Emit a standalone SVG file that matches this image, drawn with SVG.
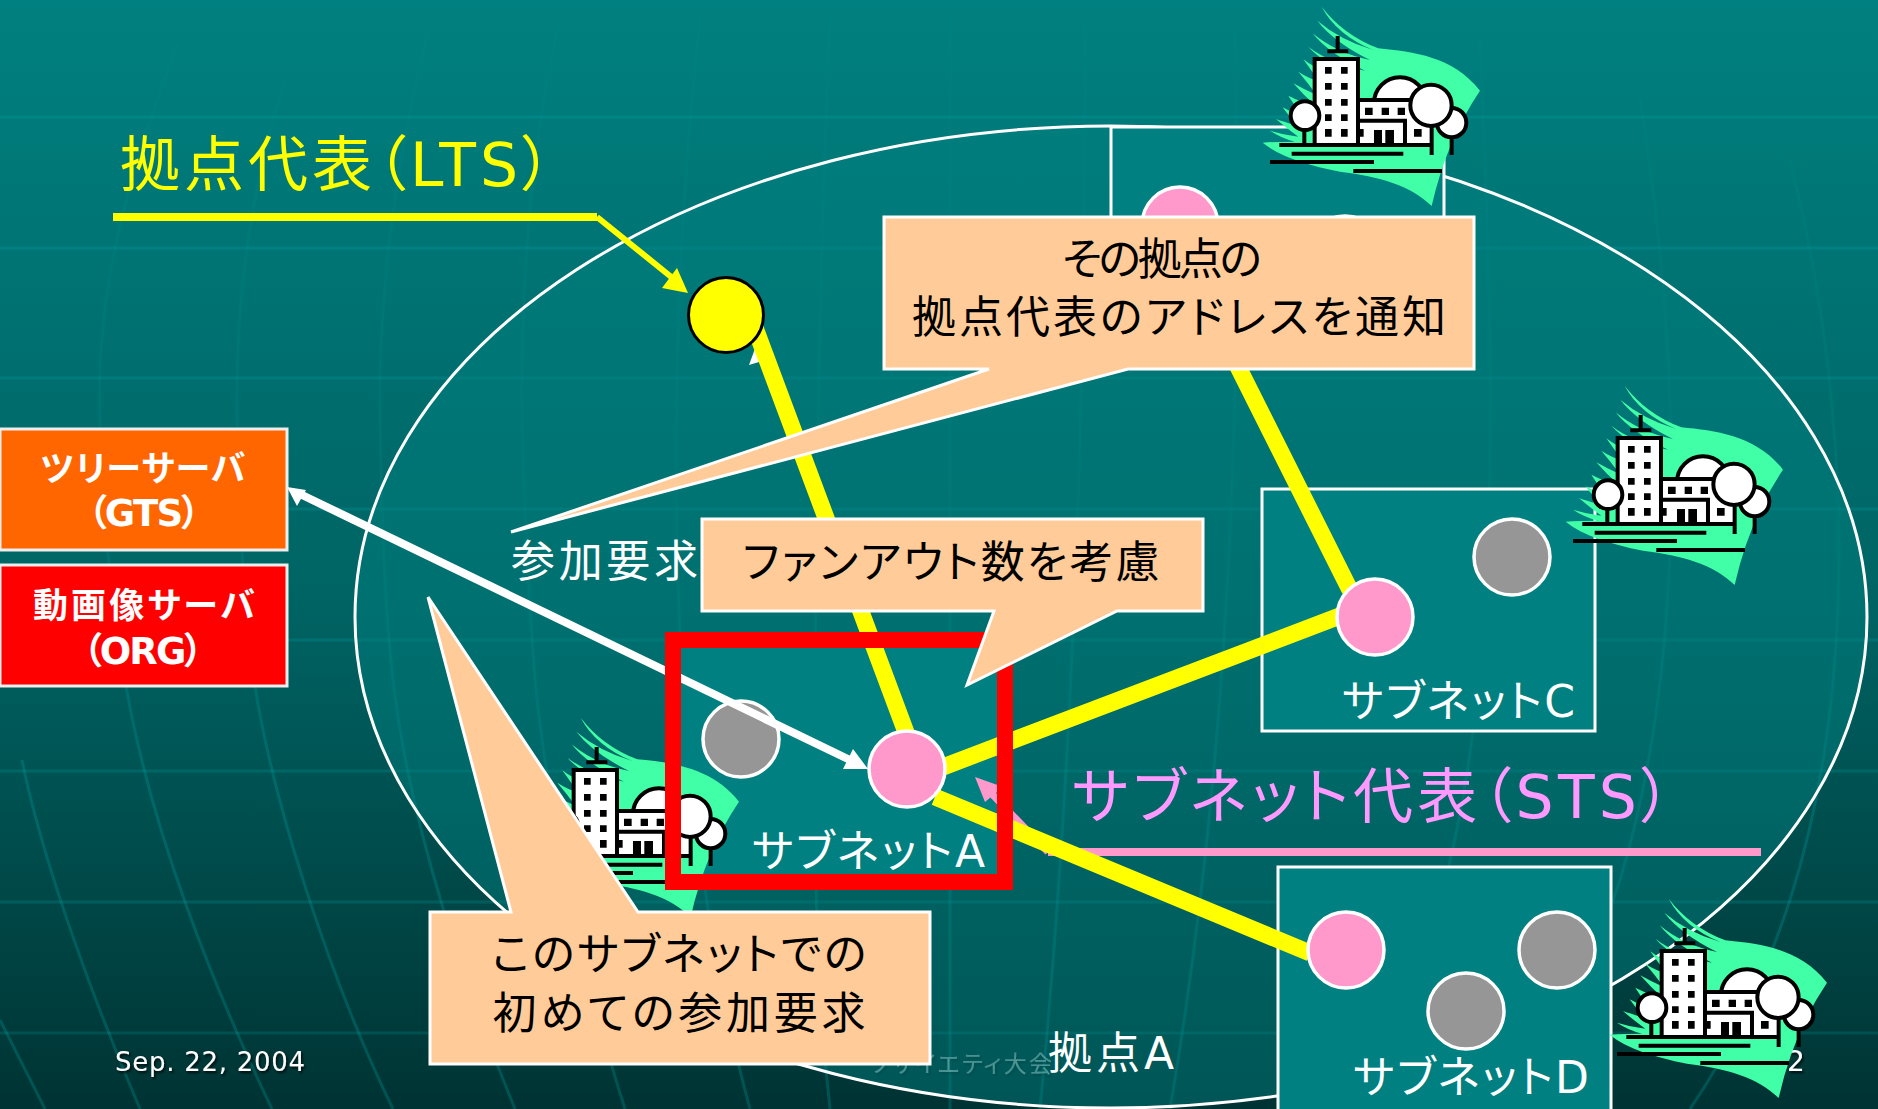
<svg xmlns="http://www.w3.org/2000/svg" width="1878" height="1109" viewBox="0 0 1878 1109">
<style>
text{font-family:"DejaVu Sans","Noto Sans CJK JP",sans-serif;font-feature-settings:"palt"}
.grid{fill:none;stroke:#00c0c0;stroke-opacity:.17;stroke-width:3}
.meridian{fill:none;stroke:url(#fade);stroke-width:3}
.subnet{fill:#008080;stroke:#fff;stroke-width:3}
.rep{fill:#ff99cc;stroke:#fff;stroke-width:3.5}
.host{fill:#969696;stroke:#fff;stroke-width:3.5}
.link{stroke:#ff0;stroke-width:17;fill:none}
.note{fill:#ffcc99;stroke:#fff;stroke-width:3}
.ntxt{fill:#000;font-size:44px;text-anchor:middle}
.wtxt{fill:#fff;font-size:44px}
.srv{fill:#fff;font-size:35px;font-weight:bold;text-anchor:middle}
.box{stroke:#eee;stroke-width:3}
.foot{fill:#fff;font-size:26px;filter:url(#shadow)}
</style>
<defs>
<linearGradient id="bg" x1="0" y1="0" x2="0" y2="1"><stop offset="0" stop-color="#008080"/><stop offset=".55" stop-color="#006363"/><stop offset="1" stop-color="#003333"/></linearGradient>
<linearGradient id="fade" gradientUnits="userSpaceOnUse" x1="0" y1="0" x2="0" y2="1109"><stop offset="0" stop-color="#00c0c0" stop-opacity=".02"/><stop offset=".45" stop-color="#00c0c0" stop-opacity=".09"/><stop offset=".7" stop-color="#00c0c0" stop-opacity=".2"/><stop offset="1" stop-color="#00c0c0" stop-opacity=".22"/></linearGradient>
<filter id="shadow" x="-10%" y="-20%" width="120%" height="150%"><feDropShadow dx="1.5" dy="2" stdDeviation="1" flood-color="#000" flood-opacity=".75"/></filter>
<g id="site">
<path fill="#40ffa6" d="M245,20Q310,105 415,145C520,155 640,170 720,272Q620,420 575,618C510,555 420,530 300,515C200,495 120,470 68,428Q110,425 165,425Q125,415 90,392Q130,405 175,410Q140,385 108,357Q130,365 165,375Q150,350 128,322Q150,335 180,345Q165,315 145,287Q180,305 230,320Q190,285 160,250Q195,270 230,285Q205,250 175,215Q205,235 240,245Q215,215 190,178Q250,225 360,240Q250,190 205,140Q270,190 375,212Q265,160 218,100Q290,160 390,180Q280,125 232,62Q300,120 400,150Q290,105 245,20Z"/>
<g stroke="#000" stroke-width="12" fill="#fff">
<circle cx="480" cy="310" r="78"/>
<path d="M354,300H575V435H354Z" stroke="none"/>
<path d="M354,300H520M354,362H495V435" fill="none"/>
<rect x="224" y="177" width="130" height="258"/>
<path d="M293,108V155M262,154H325" fill="none"/>
<path d="M575,378V465M635,410V465M193,390V435M118,435H580M155,461H490M90,486H402M340,513H606" fill="none"/>
<circle cx="635" cy="368" r="44"/>
<circle cx="573" cy="316" r="62"/>
<circle cx="195" cy="347" r="43"/>
</g>
<path fill="#000" d="M255,201h20v20h-20zM303,201h20v20h-20zM255,249h20v20h-20zM303,249h20v20h-20zM255,297h20v20h-20zM303,297h20v20h-20zM255,343h20v20h-20zM303,343h20v20h-20zM255,387h20v23h-20zM303,387h20v23h-20zM351,387h20v23h-20zM375,323h23v22h-23zM425,323h22v22h-22zM473,323h22v22h-22zM402,390h24v40h-24zM436,390h26v40h-26zM522,387h23v23h-23z"/>
</g>
</defs>

<rect width="1878" height="1109" fill="url(#bg)"/>
<!-- globe lines behind the slide -->
<g id="backdrop">
<path class="grid" d="M0,117H1878M0,248H1878M0,378H1878M0,509H1878M0,640H1878M0,771H1878M0,902H1878M0,1033H1878"/>
<path class="meridian" d="M178,43C125,180 95,300 100,420C103,520 112,610 125,680C150,830 215,990 272,1109"/>
<path class="meridian" d="M286,77C250,190 235,300 237,420C240,520 243,610 254,680C272,800 330,980 393,1109"/>
<path class="meridian" d="M428,33C395,160 378,300 380,420C382,530 385,610 393,680C410,830 470,1000 515,1109"/>
<path class="meridian" d="M558,27C530,150 520,300 522,420C525,540 530,610 535,680C550,830 590,1000 625,1109"/>
<path class="meridian" d="M22,760C40,850 85,980 140,1109M0,1020L45,1109"/>
<path class="meridian" d="M700,20C680,200 670,400 680,640C690,830 720,1000 750,1109"/>
<path class="meridian" d="M830,20C820,250 815,500 815,780C815,930 820,1020 830,1109"/>
<path class="meridian" d="M950,20C950,300 950,800 950,1109"/>
<path class="meridian" d="M1085,20C1085,300 1080,700 1040,1109"/>
<path class="meridian" d="M1235,30C1240,300 1240,700 1170,1109"/>
<path class="meridian" d="M1480,40C1490,300 1510,650 1440,900C1420,980 1400,1050 1380,1109"/>
<path class="meridian" d="M1640,100C1680,350 1690,650 1620,880C1590,970 1560,1040 1520,1109"/>
<path class="meridian" d="M1790,160C1850,400 1860,680 1790,900C1760,990 1730,1050 1690,1109"/>
</g>
<text class="foot" x="870" y="1072" style="fill:#fff;fill-opacity:.5;font-size:23px" textLength="182">ソサイエティ大会</text>
<text class="foot" x="115" y="1071" textLength="190">Sep. 22, 2004</text>
<text class="foot" x="1787" y="1071" style="font-size:28px">2</text>

<ellipse id="site-boundary" cx="1111" cy="617" rx="756" ry="491" fill="#008080" fill-opacity=".45" stroke="#fff" stroke-width="3"/>

<g id="subnet-top"><rect class="subnet" x="1111" y="127" width="333" height="130"/></g>
<g id="subnet-c"><rect class="subnet" x="1262" y="489" width="333" height="242"/></g>
<g id="subnet-d"><rect class="subnet" x="1278" y="867" width="333" height="262"/></g>
<g id="subnet-a"><rect x="673" y="640" width="332" height="242" fill="#008080"/></g>

<g id="site-top"><use href="#site" transform="translate(1240,0) scale(.3333)"/></g>
<g id="site-c"><use href="#site" transform="translate(1543,379) scale(.3333)"/></g>
<g id="site-d"><use href="#site" transform="translate(1587,892) scale(.3333)"/></g>
<g id="site-a"><use href="#site" transform="translate(499,711) scale(.3333)"/></g>

<g id="node-top-rep"><circle class="rep" cx="1180" cy="225" r="38"/></g>
<g id="node-top-host"><circle class="host" cx="1345" cy="254" r="38"/></g>
<g id="node-a-host"><circle class="host" cx="741" cy="739" r="38"/></g>
<g id="node-c-host"><circle class="host" cx="1512" cy="557" r="38"/></g>
<g id="node-d-host1"><circle class="host" cx="1557" cy="950" r="38"/></g>
<g id="node-d-host2"><circle class="host" cx="1466" cy="1011" r="38"/></g>

<!-- tree links and pointers -->
<g id="connectors">
<path d="M1048,852H1761" stroke="#ff99cc" stroke-width="8" fill="none"/>
<path d="M990,792L1048,852" stroke="#ff99cc" stroke-width="7" fill="none"/>
<polygon points="975,777 985,802 1003,787" fill="#ff99cc"/>
<polygon points="749,365 760,335 772,358" fill="#fff"/>
<path class="link" d="M754,325L907,735M943,767L1345,614M935,797L1310,953M1186,263L1350,590"/>
<path d="M113,217H597" stroke="#ff0" stroke-width="8" fill="none"/>
<path d="M597,217L675,280" stroke="#ff0" stroke-width="6" fill="none"/>
<polygon points="688,293 662,288 677,268" fill="#ff0"/>
<path d="M300,494L850,760" stroke="#fff" stroke-width="8" fill="none"/>
<polygon points="287,487 306,490 297,506" fill="#fff"/>
<polygon points="868,769 843,769 853,749" fill="#fff"/>
</g>

<g id="node-lts"><circle cx="726" cy="315" r="37.5" fill="#ff0" stroke="#000" stroke-width="3"/></g>
<g id="node-c-rep"><circle class="rep" cx="1375" cy="617" r="38"/></g>
<g id="node-d-rep"><circle class="rep" cx="1346" cy="950" r="38"/></g>
<g id="node-a-rep"><circle class="rep" cx="907" cy="769" r="38"/></g>

<g id="highlight-a"><rect x="673" y="640" width="332" height="242" fill="none" stroke="#f00" stroke-width="16"/></g>

<g id="server-gts">
<rect class="box" x="0" y="429" width="287" height="121" fill="#f60"/>
<text class="srv" x="143" y="481" textLength="205">ツリーサーバ</text>
<text class="srv" x="144" y="526" textLength="112" style="font-size:37px">（GTS）</text>
</g>
<g id="server-org">
<rect class="box" x="0" y="565" width="287" height="121" fill="#f00"/>
<text class="srv" x="144" y="618" textLength="222">動画像サーバ</text>
<text class="srv" x="143" y="664" textLength="120" style="font-size:37px">（ORG）</text>
</g>

<g id="label-lts"><text x="120" y="186" fill="#ff0" font-size="60" textLength="432">拠点代表（LTS）</text></g>
<g id="label-sts"><text x="1072" y="818" fill="#f9f" font-size="60" textLength="599">サブネット代表（STS）</text></g>
<g id="label-join"><text class="wtxt" x="511" y="577" textLength="187">参加要求</text></g>
<g id="label-a"><text class="wtxt" x="752" y="867" textLength="233">サブネットA</text></g>
<g id="label-c"><text class="wtxt" x="1342" y="717" textLength="233">サブネットC</text></g>
<g id="label-d"><text class="wtxt" x="1353" y="1093" textLength="236">サブネットD</text></g>
<g id="label-site"><text class="wtxt" x="1048" y="1069" textLength="126">拠点A</text></g>

<g id="note-address">
<path class="note" d="M884,217H1474V369H1128L511,532L989,369H884Z"/>
<text class="ntxt" x="1162" y="275" textLength="200">その拠点の</text>
<text class="ntxt" x="1179" y="333" textLength="534">拠点代表のアドレスを通知</text>
</g>
<g id="note-fanout">
<path class="note" d="M702,519H1203V611H1117L967,685L994,611H702Z"/>
<text class="ntxt" x="951" y="578" textLength="417">ファンアウト数を考慮</text>
</g>
<g id="note-first">
<path class="note" d="M430,912H511L428,597L638,912H930V1064H430Z"/>
<text class="ntxt" x="679" y="970" textLength="375">このサブネットでの</text>
<text class="ntxt" x="679" y="1029" textLength="373">初めての参加要求</text>
</g>
</svg>
